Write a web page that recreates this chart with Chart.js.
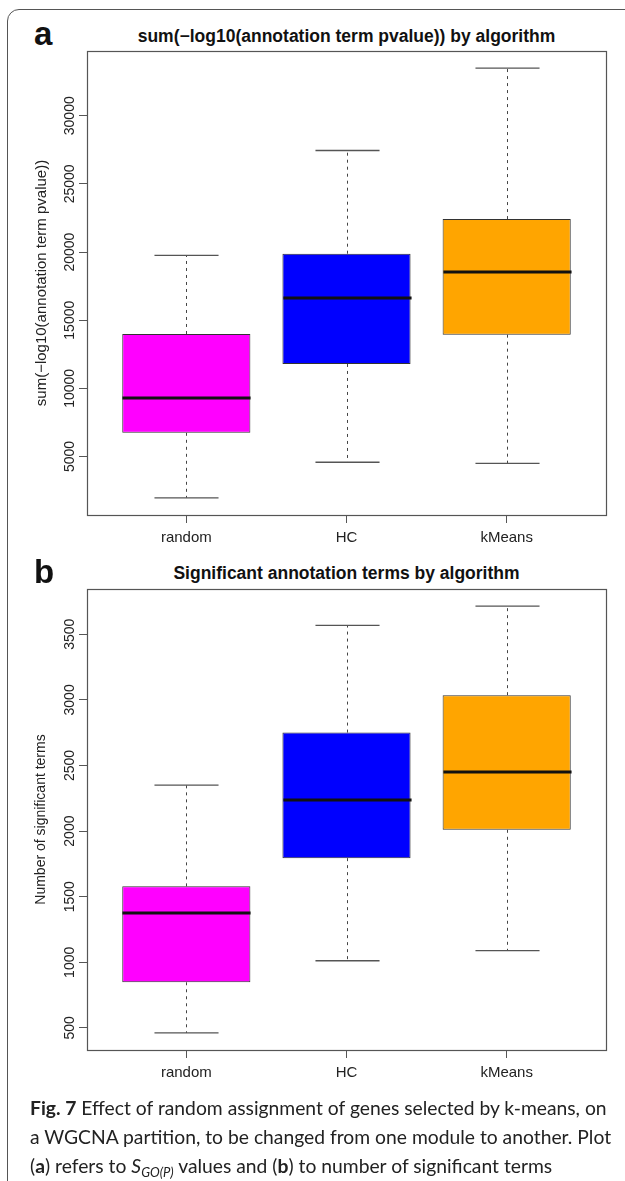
<!DOCTYPE html>
<html>
<head>
<meta charset="utf-8">
<title>Fig. 7</title>
<script src="https://cdn.jsdelivr.net/npm/chart.js@4.4.1/dist/chart.umd.min.js"></script>
<style>
  html, body { margin: 0; padding: 0; background: #fff; }
  body { width: 625px; height: 1181px; position: relative; overflow: hidden; font-family: "Liberation Sans", Arial, sans-serif; color: #111; }
  .frame { position: absolute; left: 7px; top: 9px; width: 700px; height: 1300px; border: 1.5px solid #555; border-radius: 12px; box-sizing: border-box; }
  .panel_letter { position: absolute; left: 34px; font-weight: bold; font-size: 33px; line-height: 33px; }
  .panel_title { position: absolute; left: 87px; width: 519px; text-align: center; font-weight: bold; font-size: 17.5px; line-height: 20px; white-space: nowrap; }
  canvas { position: absolute; left: 0; }
  .caption { position: absolute; left: 30px; top: 1093px; font-family: Lato, "Open Sans", sans-serif; font-size: 19.3px; line-height: 29px; white-space: nowrap; color: #222; }
  .caption sub { font-size: 13px; vertical-align: -4px; line-height: 0; }
</style>
</head>
<body>
<div class="frame"></div>

<div class="panel_letter" style="top:17px">a</div>
<div class="panel_title" style="top:26px">sum(−log10(annotation term pvalue)) by algorithm</div>
<canvas id="chartA" width="625" height="560" style="top:0"></canvas>

<div class="panel_letter" style="top:555px">b</div>
<div class="panel_title" style="top:563px">Significant annotation terms by algorithm</div>
<canvas id="chartB" width="625" height="555" style="top:540px"></canvas>

<div class="caption"><b>Fig. 7</b> Effect of random assignment of genes selected by k-means, on<br>a WGCNA partition, to be changed from one module to another. Plot<br>(<b>a</b>) refers to <i>S</i><sub><i>GO(P)</i></sub> values and (<b>b</b>) to number of significant terms</div>

<script>
// categorias (eje x)
const categories = ['random', 'HC', 'kMeans'];

// panel a: sum(-log10(annotation term pvalue))
const scoreLow    = [1970, 4580, 4490];
const scoreQ1     = [6740, 11790, 13940];
const scoreMedian = [9300, 16630, 18540];
const scoreQ3     = [13990, 19880, 22420];
const scoreHigh   = [19760, 27450, 33490];
const scoreTicks  = [5000, 10000, 15000, 20000, 25000, 30000];

// panel b: number of significant terms
const termsLow    = [462, 1012, 1089];
const termsQ1     = [848, 1794, 2010];
const termsMedian = [1376, 2238, 2451];
const termsQ3     = [1579, 2751, 3036];
const termsHigh   = [2350, 3568, 3715];
const termsTicks  = [500, 1000, 1500, 2000, 2500, 3000, 3500];

const fillColors = ['#ff00ff', '#0000ff', '#ffa500'];
const fontFamily = '"Liberation Sans", Arial, sans-serif';

// whiskers, caps, median and the plot frame, R style
const boxPlotPlugin = {
    id: 'boxPlot',
    afterDatasetsDraw(chart) {
        const ctx = chart.ctx;
        const yScale = chart.scales.y;
        const ds = chart.data.datasets[0];
        const meta = chart.getDatasetMeta(0);
        ctx.save();
        meta.data.forEach((bar, i) => {
            const cx = Math.round(bar.x) + 0.5;
            const half = bar.width / 2;
            const yLow = yScale.getPixelForValue(ds.lows[i]);
            const yHigh = yScale.getPixelForValue(ds.highs[i]);
            const yQ1 = yScale.getPixelForValue(ds.data[i].y[0]);
            const yQ3 = yScale.getPixelForValue(ds.data[i].y[1]);
            const yMed = yScale.getPixelForValue(ds.medians[i]);

            // bigotes punteados
            ctx.strokeStyle = '#444';
            ctx.lineWidth = 1;
            ctx.setLineDash([3, 4]);
            ctx.beginPath();
            ctx.moveTo(cx, yQ3);
            ctx.lineTo(cx, yHigh);
            ctx.moveTo(cx, yQ1);
            ctx.lineTo(cx, yLow);
            ctx.stroke();

            // remates
            ctx.setLineDash([]);
            ctx.strokeStyle = '#555';
            ctx.lineWidth = 1.3;
            ctx.beginPath();
            ctx.moveTo(cx - half / 2, yHigh);
            ctx.lineTo(cx + half / 2, yHigh);
            ctx.moveTo(cx - half / 2, yLow);
            ctx.lineTo(cx + half / 2, yLow);
            ctx.stroke();

            // mediana
            ctx.strokeStyle = '#111';
            ctx.lineWidth = 3;
            ctx.beginPath();
            ctx.moveTo(cx - half, yMed);
            ctx.lineTo(cx + half, yMed);
            ctx.stroke();
        });
        ctx.restore();
    },
    afterDraw(chart) {
        const ctx = chart.ctx;
        const area = chart.chartArea;
        const yScale = chart.scales.y;
        ctx.save();
        ctx.strokeStyle = '#555';
        ctx.lineWidth = 1.2;
        ctx.strokeRect(area.left + 0.5, area.top + 0.5, area.right - area.left, area.bottom - area.top);

        // etiquetas del eje y giradas
        ctx.font = '14px ' + fontFamily;
        ctx.fillStyle = '#222';
        ctx.textAlign = 'center';
        ctx.textBaseline = 'alphabetic';
        yScale.ticks.forEach(t => {
            const py = yScale.getPixelForValue(t.value);
            ctx.save();
            ctx.translate(area.left - 13.5, py);
            ctx.rotate(-Math.PI / 2);
            ctx.fillText(String(t.value), 0, 0);
            ctx.restore();
        });
        ctx.restore();
    }
};

function makeBoxChart(canvasId, lows, q1, medians, q3, highs, yTicks, yTitle, titleSize, topPad) {
    const lo = Math.min(...lows);
    const hi = Math.max(...highs);
    const padY = (hi - lo) * 0.04;
    const padX = categories.length * 0.04;

    return new Chart(document.getElementById(canvasId), {
        type: 'bar',
        data: {
            datasets: [{
                data: categories.map((c, i) => ({ x: i + 1, y: [q1[i], q3[i]] })),
                lows: lows,
                medians: medians,
                highs: highs,
                backgroundColor: fillColors,
                borderColor: '#333',
                borderWidth: 1,
                borderSkipped: false,
                categoryPercentage: 0.8,
                barPercentage: 1
            }]
        },
        options: {
            responsive: false,
            animation: false,
            devicePixelRatio: 1,
            layout: { padding: { top: topPad, right: 19, left: 0, bottom: 0 } },
            plugins: {
                legend: { display: false },
                tooltip: { enabled: false },
                title: { display: false }
            },
            scales: {
                x: {
                    type: 'linear',
                    offset: false,
                    min: 0.5 - padX,
                    max: categories.length + 0.5 + padX,
                    afterBuildTicks: s => { s.ticks = categories.map((c, i) => ({ value: i + 1 })); },
                    afterFit: s => { s.height = 45; },
                    grid: { offset: false, drawOnChartArea: false, tickLength: 8, color: '#555', lineWidth: 1 },
                    border: { display: false },
                    ticks: {
                        callback: v => categories[v - 1],
                        padding: 6,
                        autoSkip: false,
                        maxRotation: 0,
                        color: '#222',
                        font: { family: fontFamily, size: 15 }
                    }
                },
                y: {
                    min: lo - padY,
                    max: hi + padY,
                    afterBuildTicks: s => { s.ticks = yTicks.map(v => ({ value: v })); },
                    afterFit: s => { s.width = 87; },
                    grid: { drawOnChartArea: false, tickLength: 8, color: '#555', lineWidth: 1 },
                    border: { display: false },
                    ticks: { display: false },
                    title: {
                        display: true,
                        text: yTitle,
                        color: '#222',
                        font: { family: fontFamily, size: titleSize },
                        padding: { top: 33, bottom: 0 }
                    }
                }
            }
        },
        plugins: [boxPlotPlugin]
    });
}

makeBoxChart('chartA', scoreLow, scoreQ1, scoreMedian, scoreQ3, scoreHigh, scoreTicks,
    'sum(−log10(annotation term pvalue))', 15, 51);
makeBoxChart('chartB', termsLow, termsQ1, termsMedian, termsQ3, termsHigh, termsTicks,
    'Number of significant terms', 14, 49);
</script>
</body>
</html>
